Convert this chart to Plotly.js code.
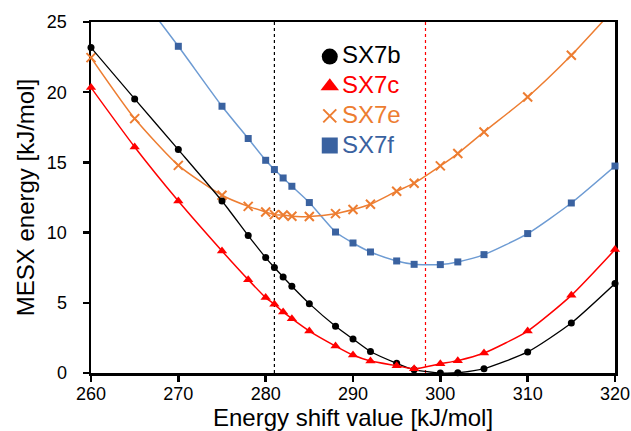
<!DOCTYPE html>
<html>
<head>
<meta charset="utf-8">
<script src="https://cdn.plot.ly/plotly-3.0.1.min.js"></script>
<style>html,body{margin:0;padding:0;background:#fff;}#chart{width:631px;height:431px;}</style>
</head>
<body>
<div id="chart"></div>
<script>
// Energy shift value [kJ/mol]
const shiftB = [260,265,270,275,278,280,281,282,283,285,288,290,292,295,297,300,302,305,310,315,320];
const energyB = [23.18,19.52,15.91,12.25,9.79,8.22,7.51,6.84,6.18,4.94,3.33,2.42,1.53,0.69,0.24,0.0,0.02,0.31,1.50,3.56,6.37];

const shiftC = [260,265,270,275,278,280,281,282,283,285,288,290,292,295,297,300,302,305,310,315,320];
const energyC = [20.33,16.10,12.25,8.69,6.65,5.37,4.89,4.35,3.87,2.99,1.92,1.28,0.85,0.52,0.30,0.66,0.88,1.42,2.99,5.53,8.79];

const shiftE = [260,265,270,275,278,280,281,282,283,285,288,290,292,295,297,300,302,305,310,315,320];
const energyE = [22.46,18.12,14.79,12.66,11.87,11.47,11.28,11.25,11.16,11.15,11.35,11.64,12.02,12.95,13.52,14.75,15.63,17.17,19.66,22.63,26.0];

const shiftF = [265,270,275,278,280,281,282,283,285,288,290,292,295,297,300,302,305,310,315,320];
const energyF = [27.4,23.27,19.00,16.70,15.15,14.49,13.89,13.30,12.14,10.04,9.26,8.62,7.98,7.74,7.72,7.91,8.43,9.93,12.11,14.74];

const seriesNames = ['SX7b','SX7c','SX7e','SX7f'];
const refLines = [281, 298.3];

const xTicks = [260,270,280,290,300,310,320];
const yTicks = [0,5,10,15,20,25];
const xRange = [260,320];
const yRange = [0,25];

const BLUE_M = '#3a62a0', BLUE_L = '#6d9bd3', ORANGE = '#ed7d31', RED = '#ff0000';
const FONT = 'Liberation Sans, Arial, sans-serif';

const inRange = (ys) => ys.map(v => (v >= yRange[0] && v <= yRange[1]) ? v : null);

const traces = [
  {x: shiftF, y: energyF, mode: 'lines', line: {color: BLUE_L, width: 1.5, shape: 'spline', smoothing: 0.6}, cliponaxis: true, showlegend: false},
  {x: shiftF, y: inRange(energyF), mode: 'markers', marker: {symbol: 'square', size: 7, color: BLUE_M}, cliponaxis: false, showlegend: false},
  {x: shiftE, y: energyE, mode: 'lines', line: {color: ORANGE, width: 1.5, shape: 'spline', smoothing: 0.6}, cliponaxis: true, showlegend: false},
  {x: shiftE, y: inRange(energyE), mode: 'markers', marker: {symbol: 'x-thin', size: 9, line: {color: ORANGE, width: 2}}, cliponaxis: false, showlegend: false},
  {x: shiftB, y: energyB, mode: 'lines', line: {color: '#000000', width: 1.3, shape: 'spline', smoothing: 0.6}, cliponaxis: true, showlegend: false},
  {x: shiftB, y: inRange(energyB), mode: 'markers', marker: {symbol: 'circle', size: 7, color: '#000000'}, cliponaxis: false, showlegend: false},
  {x: shiftC, y: energyC, mode: 'lines', line: {color: RED, width: 1.5, shape: 'spline', smoothing: 0.6}, cliponaxis: true, showlegend: false},
  {x: shiftC, y: inRange(energyC), mode: 'markers', marker: {symbol: 'triangle-up', size: 9, color: RED}, cliponaxis: false, showlegend: false}
];

// legend symbols (library legend, symbol only) + coloured names as a text box
const legendColors = ['#000000', RED, ORANGE, BLUE_M];
const legendSymbols = ['circle', 'triangle-up', 'x-thin', 'square'];
const legendSymSize = [16, 16, 13, 16];
seriesNames.forEach((n, i) => {
  traces.push({
    x: [null], y: [null], mode: 'markers', name: ' ', showlegend: true,
    marker: legendSymbols[i] === 'x-thin'
      ? {symbol: 'x-thin', size: legendSymSize[i], line: {color: legendColors[i], width: 2}}
      : {symbol: legendSymbols[i], size: legendSymSize[i], color: legendColors[i]}
  });
});

const nameText = seriesNames.map((n, i) =>
  '<span style="color:' + legendColors[i] + ';font-size:24px">' + n + '</span>').join('<br>');

const annotations = [
  {xref: 'paper', yref: 'paper', x: 0.4762, y: 0.779, xanchor: 'left', yanchor: 'middle',
   align: 'left', showarrow: false, borderpad: 0, text: nameText, font: {family: FONT, size: 23}}
];

const shapes = refLines.map((v, i) => ({
  type: 'line', xref: 'x', yref: 'paper', x0: v, x1: v, y0: 0, y1: 1,
  line: {color: i === 0 ? '#000000' : RED, width: 1.2, dash: 'dot'}, layer: 'below'
}));

const layout = {
  width: 631, height: 431,
  margin: {l: 91, r: 16, t: 22, b: 58},
  paper_bgcolor: '#ffffff', plot_bgcolor: '#ffffff',
  showlegend: true,
  legend: {
    x: 0.4175, y: 0.958, xanchor: 'left', yanchor: 'top',
    bgcolor: 'rgba(0,0,0,0)', borderwidth: 0,
    font: {family: FONT, size: 20.5}, itemsizing: 'trace', itemwidth: 30,
    traceorder: 'normal'
  },
  font: {family: FONT, color: '#000000'},
  xaxis: {
    range: xRange, tickvals: xTicks, ticktext: xTicks.map(String),
    showgrid: false, zeroline: false,
    showline: true, linecolor: '#000000', linewidth: 2.5, mirror: true,
    ticks: 'outside', ticklen: 6, tickwidth: 2.5, tickcolor: '#000000',
    tickfont: {family: FONT, size: 18, color: '#000000'},
    ticklabelstandoff: -3,
    layer: 'below traces',
    title: {text: 'Energy shift value [kJ/mol]', font: {family: FONT, size: 24, color: '#000000'}, standoff: 10}
  },
  yaxis: {
    range: yRange, tickvals: yTicks, ticktext: yTicks.map(String),
    showgrid: false, zeroline: false,
    showline: true, linecolor: '#000000', linewidth: 2.5, mirror: true,
    ticks: 'outside', ticklen: 6, tickwidth: 2.5, tickcolor: '#000000',
    tickfont: {family: FONT, size: 18, color: '#000000'},
    ticklabelstandoff: 12,
    layer: 'below traces',
    title: {text: 'MESX energy [kJ/mol]', font: {family: FONT, size: 24, color: '#000000'}, standoff: 6}
  },
  annotations: annotations,
  shapes: shapes
};

Plotly.newPlot('chart', traces, layout, {displayModeBar: false, staticPlot: true});
</script>
</body>
</html>
